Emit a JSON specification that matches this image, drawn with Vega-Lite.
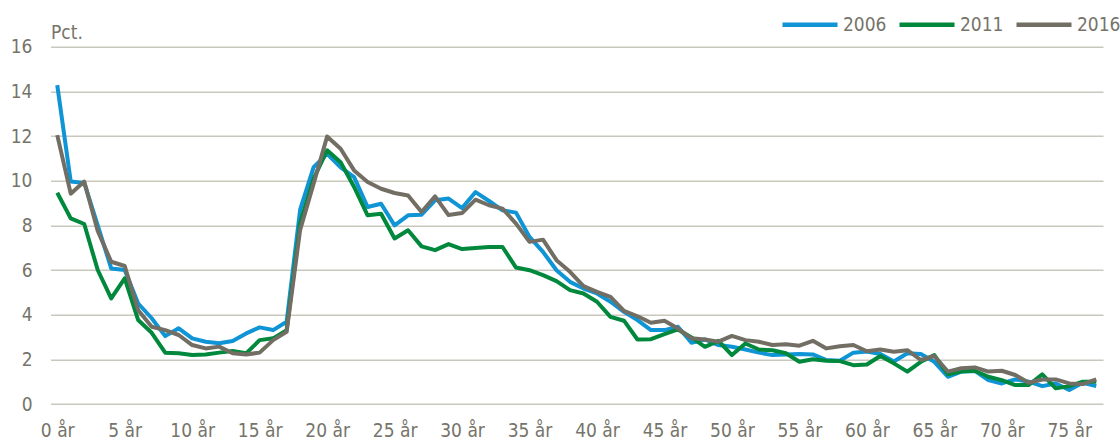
{
  "$schema": "https://vega.github.io/schema/vega-lite/v6.json",
  "width": 1052.5,
  "height": 357.3,
  "autosize": {"type": "none"},
  "padding": {"left": 50.5, "top": 46.7, "right": 17, "bottom": 36},
  "background": "white",
  "config": {"view": {"stroke": null}, "font": "DejaVu Sans Condensed, Roboto, sans-serif"},
  "data": {"values": [
    {"age": 0, "2006": 14.28, "2011": 9.46, "2016": 12.04},
    {"age": 1, "2006": 9.96, "2011": 8.31, "2016": 9.42},
    {"age": 2, "2006": 9.9, "2011": 8.06, "2016": 9.96},
    {"age": 3, "2006": 8.0, "2011": 6.0, "2016": 7.75},
    {"age": 4, "2006": 6.07, "2011": 4.73, "2016": 6.37},
    {"age": 5, "2006": 6.0, "2011": 5.63, "2016": 6.18},
    {"age": 6, "2006": 4.5, "2011": 3.76, "2016": 4.2},
    {"age": 7, "2006": 3.84, "2011": 3.19, "2016": 3.46},
    {"age": 8, "2006": 3.04, "2011": 2.3, "2016": 3.31},
    {"age": 9, "2006": 3.39, "2011": 2.27, "2016": 3.09},
    {"age": 10, "2006": 2.94, "2011": 2.19, "2016": 2.64},
    {"age": 11, "2006": 2.79, "2011": 2.22, "2016": 2.49},
    {"age": 12, "2006": 2.72, "2011": 2.3, "2016": 2.57},
    {"age": 13, "2006": 2.82, "2011": 2.37, "2016": 2.27},
    {"age": 14, "2006": 3.16, "2011": 2.27, "2016": 2.22},
    {"age": 15, "2006": 3.43, "2011": 2.86, "2016": 2.3},
    {"age": 16, "2006": 3.31, "2011": 2.94, "2016": 2.86},
    {"age": 17, "2006": 3.68, "2011": 3.31, "2016": 3.23},
    {"age": 18, "2006": 8.7, "2011": 8.1, "2016": 7.8},
    {"age": 19, "2006": 10.61, "2011": 10.09, "2016": 9.87},
    {"age": 20, "2006": 11.2, "2011": 11.36, "2016": 11.98},
    {"age": 21, "2006": 10.6, "2011": 10.83, "2016": 11.43},
    {"age": 22, "2006": 10.16, "2011": 9.72, "2016": 10.46},
    {"age": 23, "2006": 8.82, "2011": 8.45, "2016": 9.94},
    {"age": 24, "2006": 8.97, "2011": 8.52, "2016": 9.64},
    {"age": 25, "2006": 8.0, "2011": 7.41, "2016": 9.45},
    {"age": 26, "2006": 8.45, "2011": 7.78, "2016": 9.34},
    {"age": 27, "2006": 8.48, "2011": 7.06, "2016": 8.6},
    {"age": 28, "2006": 9.12, "2011": 6.89, "2016": 9.3},
    {"age": 29, "2006": 9.2, "2011": 7.16, "2016": 8.46},
    {"age": 30, "2006": 8.77, "2011": 6.94, "2016": 8.55},
    {"age": 31, "2006": 9.49, "2011": 6.99, "2016": 9.15},
    {"age": 32, "2006": 9.09, "2011": 7.03, "2016": 8.9},
    {"age": 33, "2006": 8.67, "2011": 7.03, "2016": 8.75},
    {"age": 34, "2006": 8.57, "2011": 6.11, "2016": 8.08},
    {"age": 35, "2006": 7.48, "2011": 5.99, "2016": 7.26},
    {"age": 36, "2006": 6.81, "2011": 5.77, "2016": 7.36},
    {"age": 37, "2006": 5.99, "2011": 5.5, "2016": 6.44},
    {"age": 38, "2006": 5.47, "2011": 5.1, "2016": 5.92},
    {"age": 39, "2006": 5.17, "2011": 4.95, "2016": 5.28},
    {"age": 40, "2006": 4.95, "2011": 4.58, "2016": 5.02},
    {"age": 41, "2006": 4.58, "2011": 3.9, "2016": 4.8},
    {"age": 42, "2006": 4.13, "2011": 3.73, "2016": 4.17},
    {"age": 43, "2006": 3.76, "2011": 2.89, "2016": 3.93},
    {"age": 44, "2006": 3.31, "2011": 2.9, "2016": 3.64},
    {"age": 45, "2006": 3.31, "2011": 3.13, "2016": 3.73},
    {"age": 46, "2006": 3.46, "2011": 3.34, "2016": 3.38},
    {"age": 47, "2006": 2.74, "2011": 2.98, "2016": 2.94},
    {"age": 48, "2006": 2.89, "2011": 2.56, "2016": 2.89},
    {"age": 49, "2006": 2.64, "2011": 2.83, "2016": 2.79},
    {"age": 50, "2006": 2.56, "2011": 2.19, "2016": 3.05},
    {"age": 51, "2006": 2.44, "2011": 2.71, "2016": 2.86},
    {"age": 52, "2006": 2.3, "2011": 2.44, "2016": 2.79},
    {"age": 53, "2006": 2.19, "2011": 2.41, "2016": 2.64},
    {"age": 54, "2006": 2.22, "2011": 2.27, "2016": 2.68},
    {"age": 55, "2006": 2.24, "2011": 1.89, "2016": 2.61},
    {"age": 56, "2006": 2.22, "2011": 2.0, "2016": 2.83},
    {"age": 57, "2006": 1.97, "2011": 1.94, "2016": 2.49},
    {"age": 58, "2006": 1.94, "2011": 1.92, "2016": 2.59},
    {"age": 59, "2006": 2.3, "2011": 1.74, "2016": 2.64},
    {"age": 60, "2006": 2.35, "2011": 1.77, "2016": 2.36},
    {"age": 61, "2006": 2.24, "2011": 2.15, "2016": 2.44},
    {"age": 62, "2006": 1.9, "2011": 1.82, "2016": 2.34},
    {"age": 63, "2006": 2.27, "2011": 1.45, "2016": 2.41},
    {"age": 64, "2006": 2.24, "2011": 1.89, "2016": 1.97},
    {"age": 65, "2006": 1.89, "2011": 2.19, "2016": 2.15},
    {"age": 66, "2006": 1.22, "2011": 1.33, "2016": 1.45},
    {"age": 67, "2006": 1.45, "2011": 1.45, "2016": 1.6},
    {"age": 68, "2006": 1.48, "2011": 1.49, "2016": 1.64},
    {"age": 69, "2006": 1.07, "2011": 1.22, "2016": 1.45},
    {"age": 70, "2006": 0.92, "2011": 1.07, "2016": 1.49},
    {"age": 71, "2006": 1.1, "2011": 0.85, "2016": 1.3},
    {"age": 72, "2006": 1.0, "2011": 0.85, "2016": 0.95},
    {"age": 73, "2006": 0.8, "2011": 1.33, "2016": 1.1},
    {"age": 74, "2006": 0.92, "2011": 0.7, "2016": 1.1},
    {"age": 75, "2006": 0.63, "2011": 0.8, "2016": 0.92},
    {"age": 76, "2006": 0.95, "2011": 1.0, "2016": 0.89},
    {"age": 77, "2006": 0.8, "2011": 1.0, "2016": 1.1}
  ]},
  "transform": [{"fold": ["2006", "2011", "2016"], "as": ["year", "value"]}],
  "mark": {"type": "line", "strokeWidth": 4, "strokeJoin": "round"},
  "encoding": {
    "x": {
      "field": "age", "type": "quantitative",
      "scale": {"domain": [-0.5, 77.5], "nice": false, "zero": false},
      "axis": {
        "values": [0, 5, 10, 15, 20, 25, 30, 35, 40, 45, 50, 55, 60, 65, 70, 75],
        "labelExpr": "datum.value + ' år'",
        "grid": false, "domain": false, "ticks": false,
        "labelFontSize": 19, "labelColor": "#76746a", "labelPadding": 17,
        "labelFlush": false, "labelOverlap": false, "title": null
      }
    },
    "y": {
      "field": "value", "type": "quantitative",
      "scale": {"domain": [0, 16], "nice": false},
      "axis": {
        "values": [0, 2, 4, 6, 8, 10, 12, 14, 16],
        "grid": true, "gridColor": "#c9c8bd", "gridWidth": 1.6,
        "domain": false, "ticks": false,
        "labelFontSize": 19, "labelColor": "#76746a", "labelPadding": 18.5,
        "title": "Pct.", "titleAngle": 0, "titleX": 0, "titleY": -8,
        "titleAlign": "left", "titleBaseline": "alphabetic",
        "titleFontWeight": "normal", "titleFontSize": 19, "titleColor": "#76746a"
      }
    },
    "color": {
      "field": "year", "type": "nominal",
      "scale": {"domain": ["2006", "2011", "2016"], "range": ["#0f94d6", "#00883c", "#726e64"]},
      "legend": {
        "orient": "none", "legendX": 729.5, "legendY": -52,
        "direction": "horizontal", "title": null, "padding": 0,
        "symbolType": "stroke", "symbolSize": 3025, "symbolStrokeWidth": 4.5,
        "labelFontSize": 19, "labelColor": "#76746a", "labelOffset": 3,
        "columnPadding": 3
      }
    }
  }
}
